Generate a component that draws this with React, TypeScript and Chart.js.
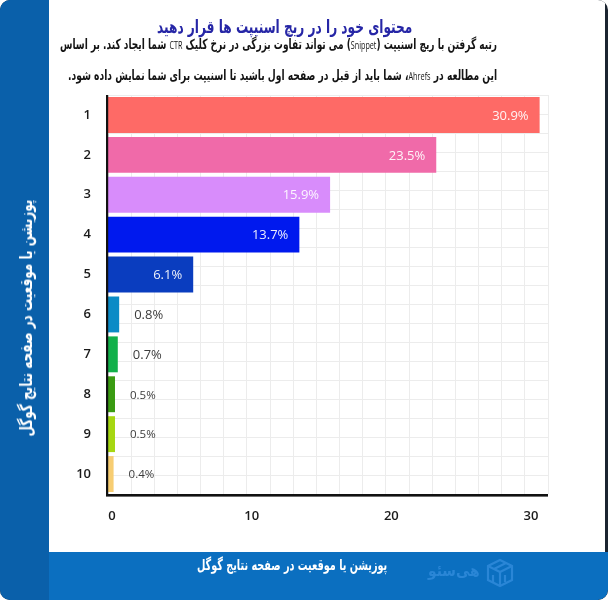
import React, { useEffect, useLayoutEffect, useRef } from 'react';
import { Chart, registerables } from 'chart.js';

Chart.register(...registerables);

// ---- data ----
const positions = ['1', '2', '3', '4', '5', '6', '7', '8', '9', '10'];
const ctrValues = [30.9, 23.5, 15.9, 13.7, 6.1, 0.8, 0.7, 0.5, 0.5, 0.4];
const xTickValues = [0, 10, 20, 30];
const barColors = [
  '#fe6a66', '#f06aa9', '#d88cfb', '#0019ee', '#0a3dbf',
  '#0b8bc6', '#12b04a', '#3a9b12', '#a6d712', '#f7cd72',
];
const titleText = 'محتوای خود را در ریچ اسنیپت ها قرار دهید';
const subtitleLines = [
  'رتبه گرفتن با ریچ اسنیپت (Snippet) می تواند تفاوت بزرگی در نرخ کلیک CTR شما ایجاد کند. بر اساس',
  'این مطالعه در Ahrefs، شما باید از قبل در صفحه اول باشید تا اسنیپت برای شما نمایش داده شود.',
];
const axisTitle = 'پوزیشن یا موقعیت در صفحه نتایج گوگل';
const brandName = 'هی‌سئو';

const numFont = "'Open Sans', 'DejaVu Sans', sans-serif";
const faFont = "'DejaVu Sans', 'Noto Sans', sans-serif";

const valueLabels = {
  id: 'valueLabels',
  afterDatasetsDraw(chart: any) {
    const ctx = chart.ctx;
    const meta = chart.getDatasetMeta(0);
    ctx.save();
    ctx.textBaseline = 'middle';
    meta.data.forEach((bar: any, i: number) => {
      const v = ctrValues[i];
      const text = v.toFixed(1) + '%';
      if (v > 5) {
        ctx.font = `400 13px ${numFont}`;
        ctx.textAlign = 'right';
        ctx.fillStyle = 'rgba(255,255,255,0.92)';
        ctx.fillText(text, bar.x - 11, bar.y + 1);
      } else {
        const size = v >= 0.7 ? 13 : 11.5;
        ctx.font = `400 ${size}px ${numFont}`;
        ctx.textAlign = 'left';
        ctx.fillStyle = '#3c3c3c';
        ctx.fillText(text, bar.x + 15, bar.y + 1);
      }
    });
    ctx.restore();
  },
};

const axisLines = {
  id: 'axisLines',
  afterDatasetsDraw(chart: any) {
    const { ctx, chartArea } = chart;
    ctx.save();
    ctx.fillStyle = '#111';
    ctx.fillRect(chartArea.left - 2, chartArea.top, 2.2, chartArea.bottom - chartArea.top + 2);
    ctx.fillRect(chartArea.left - 2, chartArea.bottom, chartArea.right - chartArea.left + 2, 2.6);
    ctx.restore();
  },
};

function BarChart() {
  const ref = useRef<HTMLCanvasElement | null>(null);
  useEffect(() => {
    if (!ref.current) return;
    const tickFont = { family: numFont, size: 13, weight: '600' as any };
    const chart = new Chart(ref.current, {
      type: 'bar',
      data: {
        labels: positions,
        datasets: [
          {
            data: ctrValues,
            backgroundColor: barColors,
            borderWidth: 0,
            barPercentage: 0.9,
            categoryPercentage: 1,
            xAxisID: 'x',
            yAxisID: 'y',
          },
        ],
      },
      options: {
        indexAxis: 'y',
        animation: false,
        responsive: false,
        maintainAspectRatio: false,
        layout: { padding: { left: 49, top: 95, right: 60, bottom: 66 } },
        plugins: { legend: { display: false }, tooltip: { enabled: false } },
        scales: {
          x: {
            type: 'linear',
            position: 'bottom',
            min: 0,
            max: 31.5,
            afterBuildTicks: (s: any) => {
              s.ticks = xTickValues.map((v) => ({ value: v }));
            },
            grid: { display: false, drawTicks: false },
            border: { display: false },
            ticks: { padding: 14, labelOffset: 4, color: '#1a1a1a', font: tickFont },
            afterFit: (s: any) => {
              s.height = 40;
            },
          },
          y: {
            type: 'category',
            position: 'left',
            grid: { display: false, drawTicks: false },
            border: { display: false },
            ticks: { padding: 17, color: '#1a1a1a', font: tickFont },
            afterFit: (s: any) => {
              s.width = 59;
            },
          },
          xg: {
            type: 'linear',
            position: 'top',
            min: 0,
            max: 19,
            ticks: { display: false, stepSize: 1 },
            grid: { color: '#ececec', lineWidth: 1, drawTicks: false },
            border: { display: false },
            afterFit: (s: any) => {
              s.height = 0;
            },
          },
          yg: {
            type: 'linear',
            position: 'right',
            min: 0,
            max: 20,
            ticks: { display: false, stepSize: 1 },
            grid: { color: '#ececec', lineWidth: 1, drawTicks: false },
            border: { display: false },
            afterFit: (s: any) => {
              s.width = 0;
            },
          },
        },
      } as any,
      plugins: [valueLabels, axisLines],
    });
    return () => chart.destroy();
  }, []);
  return (
    <canvas
      ref={ref}
      width={608}
      height={600}
      style={{ position: 'absolute', left: 0, top: 0, width: 608, height: 600, zIndex: 1 }}
    />
  );
}

// Text squeezed horizontally to a target width (the original uses a narrow Persian font)
function FitText(props: {
  text: string;
  width: number;
  style: React.CSSProperties;
  smallLatin?: boolean;
}) {
  const ref = useRef<HTMLSpanElement | null>(null);
  useLayoutEffect(() => {
    const el = ref.current;
    if (!el) return;
    el.style.transform = 'none';
    const w = el.offsetWidth;
    if (w > 0) el.style.transform = `scaleX(${props.width / w})`;
  }, [props.text, props.width]);
  const parts = props.smallLatin ? props.text.split(/([A-Za-z]+)/) : [props.text];
  return (
    <div dir="ltr" style={{ width: props.width, whiteSpace: 'nowrap', textAlign: 'left', ...props.style }}>
      <span
        ref={ref}
        dir="rtl"
        style={{ display: 'inline-block', transformOrigin: 'left center', whiteSpace: 'nowrap' }}
      >
        {parts.map((p, i) =>
          /^[A-Za-z]+$/.test(p) ? (
            <span key={i} style={{ fontFamily: "'Liberation Sans Narrow', 'Open Sans', sans-serif", fontWeight: 400, fontSize: '0.8em' }}>
              {p}
            </span>
          ) : (
            <React.Fragment key={i}>{p}</React.Fragment>
          )
        )}
      </span>
    </div>
  );
}

export default function App() {
  return (
    <div
      style={{
        position: 'fixed',
        left: 0,
        top: 0,
        width: 608,
        height: 600,
        background: '#1b2430',
        borderRadius: 10,
        overflow: 'hidden',
        fontFamily: faFont,
      }}
    >
      {/* left band */}
      <div style={{ position: 'absolute', left: 0, top: 0, width: 49, height: 600, background: '#0a60aa' }} />
      {/* white panel */}
      <div style={{ position: 'absolute', left: 49, top: 0, width: 556, height: 552, background: '#ffffff' }} />
      {/* bottom band */}
      <div style={{ position: 'absolute', left: 49, top: 552, width: 559, height: 48, background: '#0b6fc0', borderBottomRightRadius: 10 }} />

      <BarChart />

      {/* title */}
      <div style={{ position: 'absolute', zIndex: 2, left: 157, top: 15 }}>
        <FitText text={titleText} width={255} style={{ color: '#2626a6', fontWeight: 700, fontSize: 18, lineHeight: '24px' }} />
      </div>
      {/* subtitle */}
      <div style={{ position: 'absolute', zIndex: 2, left: 60, top: 35 }}>
        <FitText text={subtitleLines[0]} width={437} smallLatin style={{ color: '#141414', fontWeight: 700, fontSize: 14, lineHeight: '19px' }} />
      </div>
      <div style={{ position: 'absolute', zIndex: 2, left: 68, top: 66 }}>
        <FitText text={subtitleLines[1]} width={429} smallLatin style={{ color: '#141414', fontWeight: 700, fontSize: 14, lineHeight: '19px' }} />
      </div>
      {/* left rotated axis title */}
      <div
        style={{
          position: 'absolute',
          zIndex: 2,
          left: 26,
          top: 318,
          transform: 'translate(-50%, -50%) rotate(-90deg)',
        }}
      >
        <FitText text={axisTitle} width={237} style={{ color: '#ffffff', fontWeight: 700, fontSize: 17, lineHeight: '22px' }} />
      </div>
      {/* bottom axis title */}
      <div style={{ position: 'absolute', zIndex: 2, left: 197, top: 555 }}>
        <FitText text={axisTitle} width={190} style={{ color: '#ffffff', fontWeight: 700, fontSize: 15, lineHeight: '20px' }} />
      </div>
      {/* brand */}
      <div style={{ position: 'absolute', zIndex: 2, left: 428, top: 561 }}>
        <FitText text={brandName} width={52} style={{ color: '#2a86d6', fontWeight: 700, fontSize: 16, lineHeight: '20px' }} />
      </div>
      <svg
        width={28}
        height={30}
        viewBox="0 0 28 30"
        style={{ position: 'absolute', left: 486, top: 558, zIndex: 2 }}
      >
        <g fill="none" stroke="#2a86d6" strokeWidth={2.2}>
          <path d="M14 2 L26 8 L26 22 L14 28 L2 22 L2 8 Z" />
          <path d="M2 8 L14 14 L26 8" />
          <path d="M14 14 L14 28" />
          <path d="M7 17 L7 24" />
          <path d="M19 17 L19 24" />
          <path d="M20 5 L8 11" />
        </g>
      </svg>
    </div>
  );
}
